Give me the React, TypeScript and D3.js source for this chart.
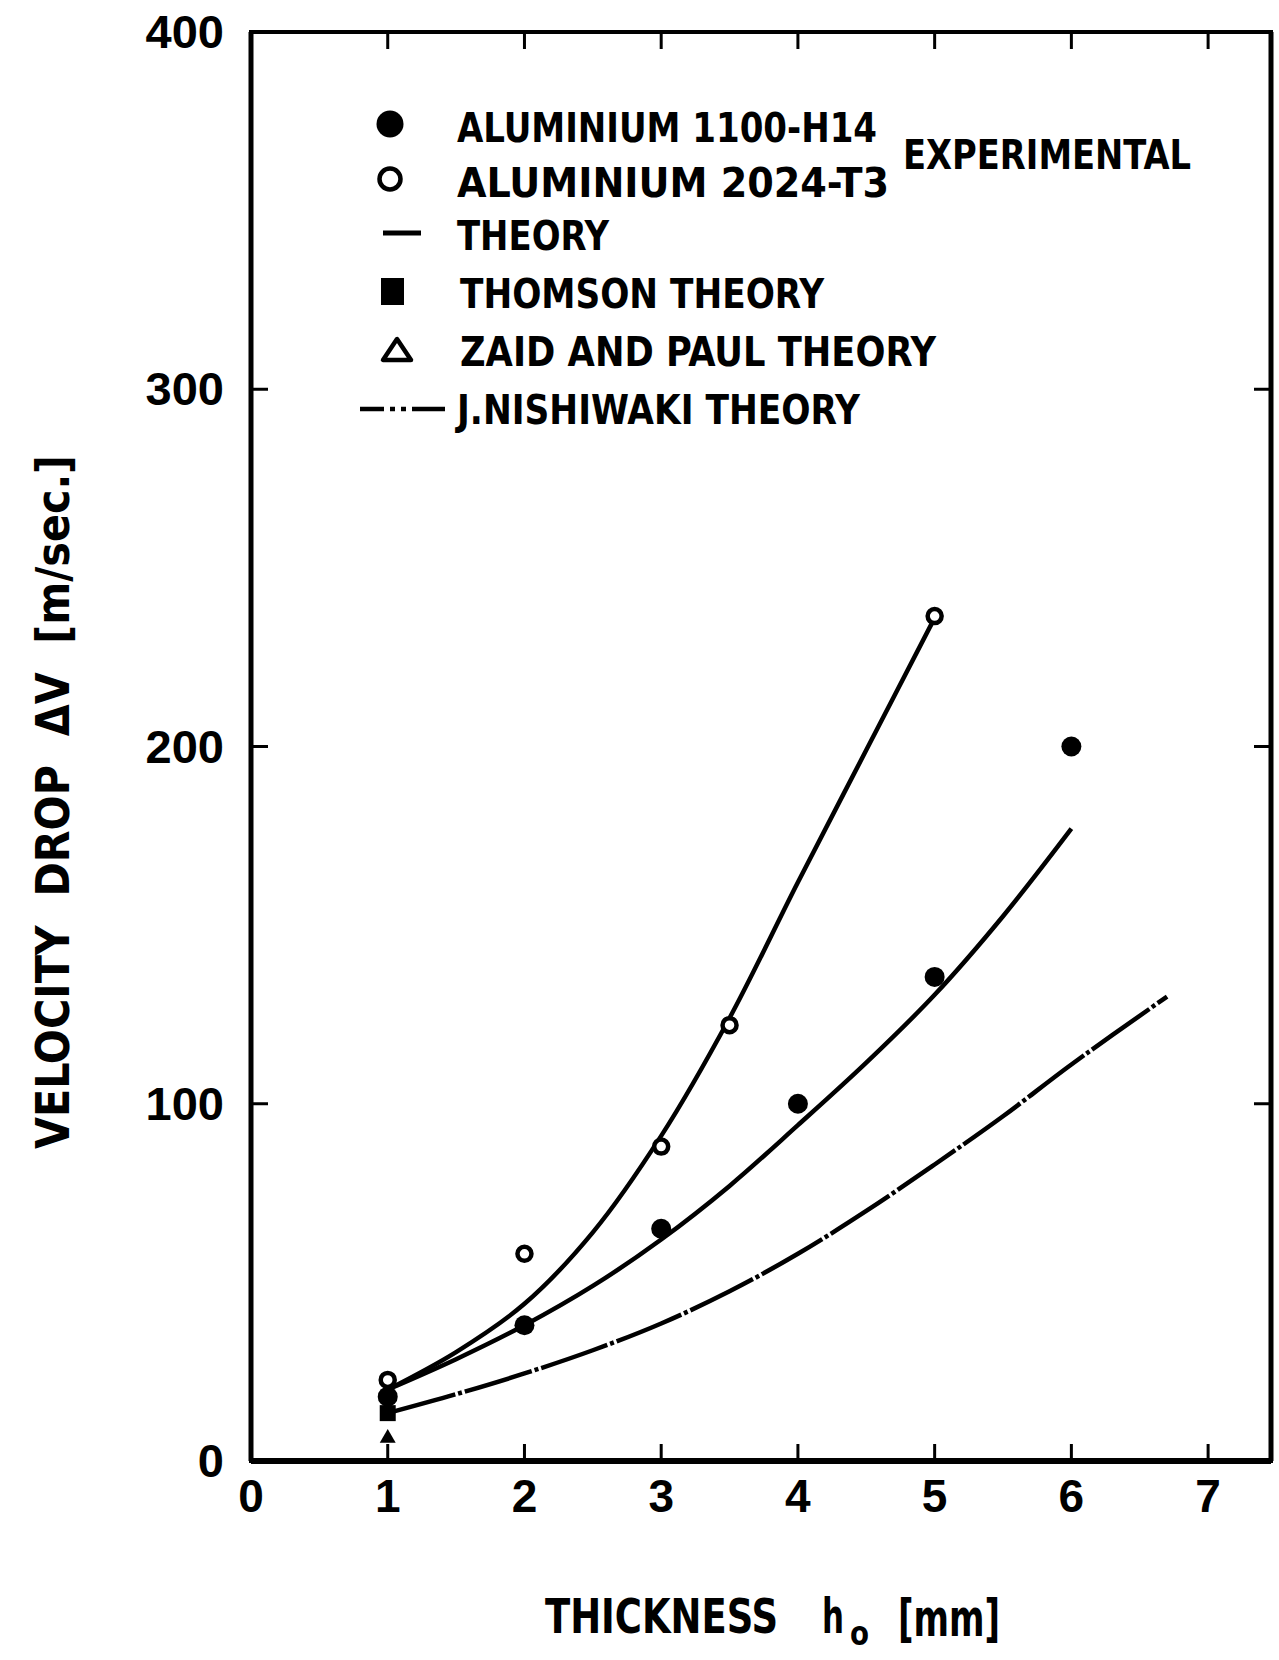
import React from "react";
import * as d3 from "d3";

// axis ticks
const xTicks = [0, 1, 2, 3, 4, 5, 6, 7];
const yTicks = [0, 100, 200, 300, 400];

// experimental points
const al1100X = [1, 2, 3, 4, 5, 6];
const al1100Y = [18, 38, 65, 100, 135.5, 200];
const al2024X = [1, 2, 3, 3.5, 5];
const al2024Y = [22.7, 58, 88, 122, 236.5];

// single-point theories at h0 = 1 mm
const thomsonX = [1];
const thomsonY = [13.4];
const zaidX = [1];
const zaidY = [6.4];

// theory curves
const theory2024X = [1, 1.5, 2, 2.5, 3, 3.5, 4, 4.5, 5];
const theory2024Y = [20, 30.5, 44, 64, 91, 124, 162, 199, 236];
const theory1100X = [1, 1.5, 2, 2.5, 3, 3.5, 4, 4.5, 5, 5.5, 6];
const theory1100Y = [20, 28.5, 38, 49, 62, 77, 94, 111.5, 130.5, 152.5, 177];
const nishiwakiX = [1, 1.5, 2, 2.5, 3, 3.5, 4, 4.5, 5, 5.5, 6, 6.7];
const nishiwakiY = [13.4, 18.7, 24.5, 31, 38.5, 47.5, 58, 70, 83, 96.5, 111, 130];

const LEG = "'DejaVu Sans Condensed', 'DejaVu Sans', sans-serif";
const NUM = "'Liberation Sans', Arial, sans-serif";

const zip = (xs: number[], ys: number[]) => xs.map((x, i) => [x, ys[i]] as [number, number]);

export default function App() {
  const x = d3.scaleLinear().domain([0, 7.46]).range([251, 1271]);
  const y = d3.scaleLinear().domain([0, 400]).range([1461, 32]);

  const line = d3
    .line<[number, number]>()
    .x((d) => x(d[0]))
    .y((d) => y(d[1]))
    .curve(d3.curveCatmullRom.alpha(0.5));

  const tri = d3.symbol().type(d3.symbolTriangle).size(110);

  const x0 = x(0), x1 = x(7.46), yTop = y(400), yBot = y(0);
  const tick = 17;
  const pre = { whiteSpace: "pre" as const };

  return (
    <svg
      width={1279}
      height={1660}
      style={{ position: "absolute", left: 0, top: 0, background: "#fff" }}
    >
      {/* frame */}
      <rect x={x0} y={yTop} width={x1 - x0} height={yBot - yTop} fill="none" stroke="#000" strokeWidth={4} />
      <line x1={x0} x2={x1} y1={yBot} y2={yBot} stroke="#000" strokeWidth={6} />
      <line x1={x0} x2={x0} y1={yTop} y2={yBot} stroke="#000" strokeWidth={5} />
      <line x1={x1} x2={x1} y1={yTop} y2={yBot} stroke="#000" strokeWidth={5} />

      {/* ticks */}
      {xTicks.filter((t) => t > 0).map((t) => (
        <g key={"xt" + t}>
          <line x1={x(t)} x2={x(t)} y1={yBot} y2={yBot - tick} stroke="#000" strokeWidth={3} />
          <line x1={x(t)} x2={x(t)} y1={yTop} y2={yTop + tick} stroke="#000" strokeWidth={3} />
        </g>
      ))}
      {yTicks.filter((t) => t > 0 && t < 400).map((t) => (
        <g key={"yt" + t}>
          <line x1={x0} x2={x0 + tick} y1={y(t)} y2={y(t)} stroke="#000" strokeWidth={3} />
          <line x1={x1} x2={x1 - tick} y1={y(t)} y2={y(t)} stroke="#000" strokeWidth={3} />
        </g>
      ))}

      {/* tick labels */}
      {xTicks.map((t) => (
        <text key={"xl" + t} x={x(t)} y={1512} textAnchor="middle" fontFamily={NUM} fontWeight="bold" fontSize={46}>
          {t}
        </text>
      ))}
      {yTicks.map((t) => (
        <text key={"yl" + t} x={224} y={y(t) + 16} textAnchor="end" fontFamily={NUM} fontWeight="bold" fontSize={47}>
          {t}
        </text>
      ))}

      {/* curves */}
      <path d={line(zip(theory2024X, theory2024Y)) || ""} fill="none" stroke="#000" strokeWidth={4.5} />
      <path d={line(zip(theory1100X, theory1100Y)) || ""} fill="none" stroke="#000" strokeWidth={4.5} />
      <path
        d={line(zip(nishiwakiX, nishiwakiY)) || ""}
        fill="none"
        stroke="#000"
        strokeWidth={4.5}
        strokeDasharray="70 3 4 3"
      />

      {/* points */}
      {zip(thomsonX, thomsonY).map((d, i) => (
        <rect key={"th" + i} x={x(d[0]) - 8} y={y(d[1]) - 8} width={16} height={16} fill="#000" />
      ))}
      {zip(zaidX, zaidY).map((d, i) => (
        <path key={"z" + i} d={tri() || ""} transform={`translate(${x(d[0])},${y(d[1])})`} fill="#000" />
      ))}
      {zip(al1100X, al1100Y).map((d, i) => (
        <circle key={"f" + i} cx={x(d[0])} cy={y(d[1])} r={10} fill="#000" />
      ))}
      {zip(al2024X, al2024Y).map((d, i) => (
        <circle key={"o" + i} cx={x(d[0])} cy={y(d[1])} r={7} fill="#fff" stroke="#000" strokeWidth={4.5} />
      ))}

      {/* legend */}
      <g fontFamily={LEG} fontWeight="bold" fontSize={41} style={pre}>
        <circle cx={390} cy={124} r={13.5} fill="#000" />
        <text x={457} y={142} textLength={420} lengthAdjust="spacingAndGlyphs">ALUMINIUM  1100-H14</text>
        <circle cx={390} cy={179} r={10.5} fill="#fff" stroke="#000" strokeWidth={4.5} />
        <text x={457} y={197} textLength={432} lengthAdjust="spacingAndGlyphs">ALUMINIUM  2024-T3</text>
        <text x={903} y={169} textLength={288} lengthAdjust="spacingAndGlyphs">EXPERIMENTAL</text>

        <line x1={383} x2={421} y1={233} y2={233} stroke="#000" strokeWidth={5} />
        <text x={457} y={250} textLength={152} lengthAdjust="spacingAndGlyphs">THEORY</text>

        <rect x={381} y={278} width={23} height={27} fill="#000" />
        <text x={460} y={308} textLength={364} lengthAdjust="spacingAndGlyphs">THOMSON  THEORY</text>

        <path d="M397,339 L383,360 L411,360 Z" fill="none" stroke="#000" strokeWidth={4.5} strokeLinejoin="round" />
        <text x={460} y={366} textLength={476} lengthAdjust="spacingAndGlyphs">ZAID AND  PAUL THEORY</text>

        <line x1={360} x2={445} y1={409} y2={409} stroke="#000" strokeWidth={4.5} strokeDasharray="24 6 5 6 5 6 40" />
        <text x={457} y={424} textLength={403} lengthAdjust="spacingAndGlyphs">J.NISHIWAKI  THEORY</text>
      </g>

      {/* y axis title */}
      <text
        transform="translate(69,1149) rotate(-90)"
        fontFamily={LEG}
        fontWeight="bold"
        fontSize={46}
        textLength={694}
        lengthAdjust="spacingAndGlyphs"
        style={pre}
      >
        VELOCITY  DROP  ΔV  [m/sec.]
      </text>

      {/* x axis title */}
      <g fontFamily={LEG} fontWeight="bold">
        <text x={545} y={1633} fontSize={48} textLength={233} lengthAdjust="spacingAndGlyphs">THICKNESS</text>
        <text x={822} y={1633} fontSize={48} textLength={22} lengthAdjust="spacingAndGlyphs">h</text>
        <text x={850} y={1645} fontSize={34} textLength={19} lengthAdjust="spacingAndGlyphs">o</text>
        <text x={898} y={1636} fontSize={52} textLength={102} lengthAdjust="spacingAndGlyphs">[mm]</text>
      </g>
    </svg>
  );
}
